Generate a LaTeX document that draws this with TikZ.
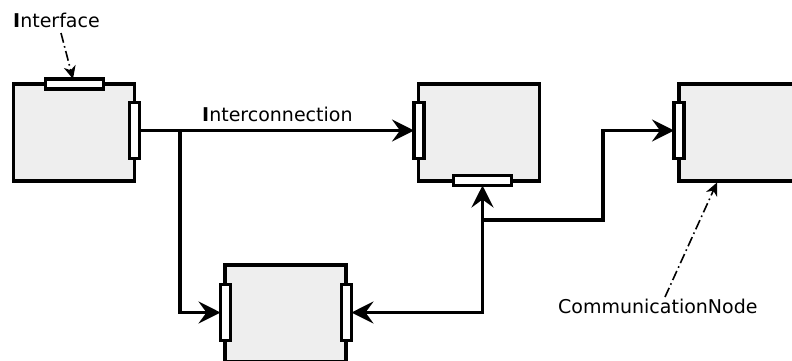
\documentclass[tikz,border=0pt]{standalone}
\usepackage{fontspec}
\setmainfont{DejaVu Sans}
\usetikzlibrary{arrows.meta}
\definecolor{nodefill}{HTML}{EEEEEE}
\begin{document}
\begin{tikzpicture}[x=1pt,y=-1pt,
  commnode/.style={draw=black, line width=3.2pt, fill=nodefill,
    minimum width=121pt, minimum height=97pt, inner sep=0pt, outer sep=0pt},
  iface/.style={draw=black, line width=3.2pt, fill=white, inner sep=0pt, outer sep=0pt},
  vport/.style={iface, minimum width=10pt, minimum height=56pt},
  hport/.style={iface, minimum width=58pt, minimum height=10pt},
  wire/.style={line width=3.2pt},
  tip/.style={-{Stealth[length=22pt,width=22pt,inset=8pt]}},
  bitip/.style={{Stealth[length=22pt,width=22pt,inset=8pt]}-{Stealth[length=22pt,width=22pt,inset=8pt]}},
  note/.style={line width=1.6pt, dash pattern=on 10pt off 3.5pt on 1.6pt off 3.5pt,
    -{Stealth[length=13pt,width=12pt,inset=4pt]}},
  caption/.style={font=\fontsize{19}{23}\selectfont, inner sep=0pt}]
  \useasboundingbox (0,0) rectangle (792,360);
  \clip (0,0) rectangle (792,360);

  % communication nodes
  \node[commnode] (n1) at (74,132.5) {};
  \node[commnode] (n2) at (479,132.5) {};
  \node[commnode] (n3) at (739.5,132.5) {};
  \node[commnode] (n4) at (285.5,313.5) {};

  % interfaces
  \node[hport] (n1top) at (74.5,84) {};
  \node[vport] (n1r) at (134.5,130.5) {};
  \node[vport] (n2l) at (419,130.5) {};
  \node[hport] (n2b) at (482.5,180.5) {};
  \node[vport] (n3l) at (679,130.5) {};
  \node[vport] (n4l) at (225.5,312.5) {};
  \node[vport] (n4r) at (346.5,312.5) {};

  % interconnections
  \coordinate (j1) at (180,130.5);
  \coordinate (j2) at (482.5,220);
  \coordinate (j3) at (603,220);
  \draw[wire,tip] (n1r.east) -- (n2l.west);
  \draw[wire,tip] (j1) |- (n4l.west);
  \draw[wire,bitip] (n4r.east) -| (n2b.south);
  \draw[wire,tip] (j2) -- (j3) |- (n3l.west);

  % labels
  \node[caption, anchor=base west] (lblif) at (13,27) {\textbf{I}nterface};
  \node[caption, anchor=base west] (lblic) at (202,121) {\textbf{I}nterconnection};
  \node[caption, anchor=base west] (lblcn) at (558,313) {CommunicationNode};

  \coordinate (ifnote) at (61,33);
  \coordinate (cnnote) at (665,297);
  \draw[note] (ifnote) -- ([xshift=-1.5pt]n1top.north);
  \draw[note] (cnnote) -- ([xshift=38pt,yshift=-1.5pt]n3.south west);
\end{tikzpicture}
\end{document}
